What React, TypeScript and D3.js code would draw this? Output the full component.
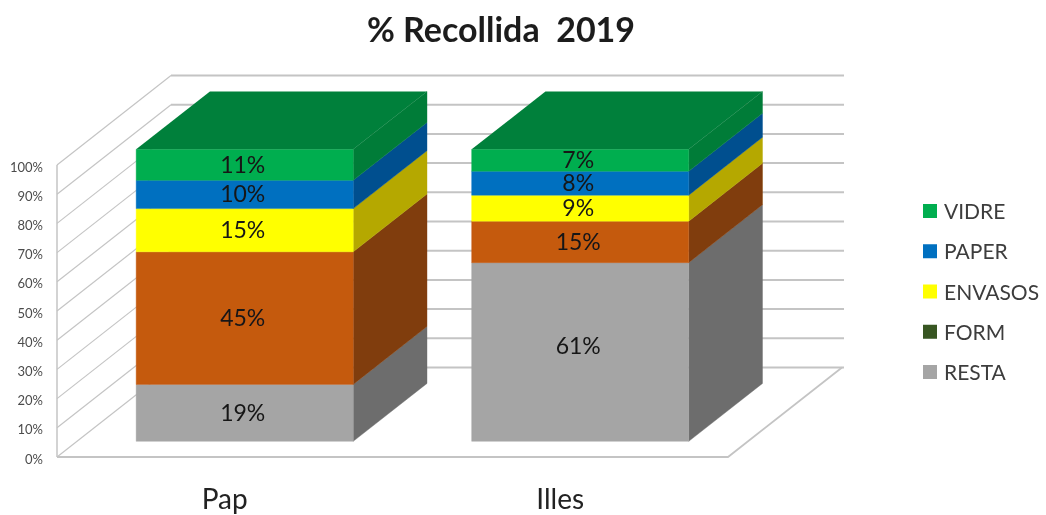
import React from "react";
import * as d3 from "d3";

const title = "% Recollida  2019";
const categories = ["Pap", "Illes"];
const resta = [19.5, 61.2];
const form = [0, 0];
const orange = [45.4, 14.2];
const envasos = [14.8, 8.9];
const paper = [9.7, 8.2];
const vidre = [10.6, 7.5];
const labelsPap = ["19%", "45%", "15%", "10%", "11%"];
const labelsIlles = ["61%", "15%", "9%", "8%", "7%"];
const yTicks = [0, 10, 20, 30, 40, 50, 60, 70, 80, 90, 100];
const legendOrder = ["VIDRE", "PAPER", "ENVASOS", "FORM", "RESTA"];

const W = 1046, H = 515;
const FONT = "Lato, 'Open Sans', sans-serif";
const x0 = 57, x1 = 728, yBase = 457, yTop = 165;
const depthX = 114, depthY = 89.5;
const barDepthFrom = 0.175, barDepthTo = 0.822;

const xScale = d3.scaleBand<string>().domain(categories).range([x0, x1]).paddingInner(0.353).paddingOuter(0.1765);
const yScale = d3.scaleLinear().domain([0, 100]).range([yBase, yTop]);
const depth = d3.scaleLinear().domain([0, 1]).range([0, 1]);

// projection of (x on the front plane, value, depth 0..1) to the picture
const project = (x: number, v: number, d: number): [number, number] => [
  x + depth(d) * depthX,
  yScale(v) - depth(d) * depthY,
];
const line = d3.line();
const poly = (pts: [number, number][]) => line(pts)! + "Z";

const fronts: Record<string, string> = {
  RESTA: "#a5a5a5", FORM: "#375623", ORANGE: "#c55a11", ENVASOS: "#ffff00", PAPER: "#0070c0", VIDRE: "#00ae4f",
};
const sides: Record<string, string> = {
  RESTA: "#6d6d6d", FORM: "#213414", ORANGE: "#803c0b", ENVASOS: "#b5a800", PAPER: "#03508f", VIDRE: "#067c39",
};
const topColor = "#05803a";
const grid = "#c4c4c4";

const stackRows = [
  { key: "RESTA", values: resta },
  { key: "FORM", values: form },
  { key: "ORANGE", values: orange },
  { key: "ENVASOS", values: envasos },
  { key: "PAPER", values: paper },
  { key: "VIDRE", values: vidre },
];
const labelSets = [labelsPap, labelsIlles];
const labelled = ["RESTA", "ORANGE", "ENVASOS", "PAPER", "VIDRE"];

const legendScale = d3.scalePoint<string>().domain(legendOrder).range([211, 372]);

export default function App() {
  const bars = categories.map((c, ci) => {
    const bx = xScale(c)!;
    const bw = xScale.bandwidth();
    let cum = 0;
    const segs = stackRows.map((r) => {
      const a = cum;
      cum += r.values[ci];
      return { key: r.key, a, b: cum };
    });
    return { c, ci, bx, bw, segs, total: cum };
  });

  return (
    <svg
      width={W}
      height={H}
      viewBox={`0 0 ${W} ${H}`}
      style={{ position: "fixed", left: 0, top: 0, background: "#fff", display: "block" }}
    >
      <defs>
        <filter id="soft" x="-2%" y="-2%" width="104%" height="104%">
          <feGaussianBlur stdDeviation="0.55" />
        </filter>
      </defs>
      <rect width={W} height={H} fill="#fff" />
      <g filter="url(#soft)">
        {/* back wall */}
        {yTicks.map((t) => {
          const a = project(x0, t, 1);
          const b = project(x1, t, 1);
          return <line key={"b" + t} x1={a[0]} y1={a[1]} x2={b[0] + 2} y2={b[1]} stroke={grid} strokeWidth={2} />;
        })}
        {/* side wall */}
        {yTicks.map((t) => {
          const a = project(x0, t, 0);
          const b = project(x0, t, 1);
          return <line key={"s" + t} x1={a[0]} y1={a[1]} x2={b[0]} y2={b[1]} stroke={grid} strokeWidth={1.2} />;
        })}
        <line x1={x0} y1={yScale(0)} x2={x0} y2={yScale(100)} stroke={grid} strokeWidth={1.5} />
        {/* floor */}
        <path
          d={line([project(x0, 0, 0), project(x1, 0, 0), project(x1, 0, 1)])!}
          fill="none"
          stroke={grid}
          strokeWidth={1.8}
        />

        {bars.map((b) => (
          <g key={b.c}>
            {b.segs.filter((s) => s.b > s.a).map((s) => {
              const l = b.bx;
              const r = b.bx + b.bw;
              return (
                <g key={s.key}>
                  <path
                    d={poly([project(r, s.a, barDepthFrom), project(r, s.a, barDepthTo), project(r, s.b, barDepthTo), project(r, s.b, barDepthFrom)])}
                    fill={sides[s.key]}
                    stroke={sides[s.key]}
                    strokeWidth={0.4}
                  />
                  <path
                    d={poly([project(l, s.a, barDepthFrom), project(r, s.a, barDepthFrom), project(r, s.b, barDepthFrom), project(l, s.b, barDepthFrom)])}
                    fill={fronts[s.key]}
                    stroke={fronts[s.key]}
                    strokeWidth={0.4}
                  />
                </g>
              );
            })}
            <path
              d={poly([
                project(b.bx, b.total, barDepthFrom),
                project(b.bx + b.bw, b.total, barDepthFrom),
                project(b.bx + b.bw, b.total, barDepthTo),
                project(b.bx, b.total, barDepthTo),
              ])}
              fill={topColor}
            />
            {labelled.map((k, i) => {
              const s = b.segs.find((q) => q.key === k)!;
              const tall = s.b - s.a > 50;
              const p = project(b.bx + b.bw / 2 - 2, (s.a + s.b) / 2, barDepthFrom);
              return (
                <text
                  key={k}
                  x={p[0]}
                  y={p[1] + 8 - (tall ? 6 : 0)}
                  textAnchor="middle"
                  fontFamily={FONT}
                  fontSize={23}
                  fill="#161616"
                >
                  {labelSets[b.ci][i]}
                </text>
              );
            })}
            <text
              x={b.bx + b.bw / 2}
              y={509}
              textAnchor="middle"
              fontFamily={FONT}
              fontSize={28}
              fill="#222"
            >
              {b.c}
            </text>
          </g>
        ))}

        {yTicks.map((t) => (
          <text
            key={"t" + t}
            x={43}
            y={yScale(t) + 6.5}
            textAnchor="end"
            fontFamily={FONT}
            fontSize={13}
            fill="#4c4c4c"
          >
            {t}%
          </text>
        ))}

        <text x={501} y={42} textAnchor="middle" fontFamily={FONT} fontSize={34} fontWeight={700} fill="#1c1c1c" style={{ whiteSpace: "pre" }}>
          {title}
        </text>

        {legendOrder.map((k) => {
          const cy = legendScale(k)!;
          return (
            <g key={k}>
              <rect x={923} y={cy - 7} width={14} height={14} fill={fronts[k]} />
              <text x={944} y={cy + 8} fontFamily={FONT} fontSize={21} fill="#3c3c3c">
                {k}
              </text>
            </g>
          );
        })}
      </g>
    </svg>
  );
}
